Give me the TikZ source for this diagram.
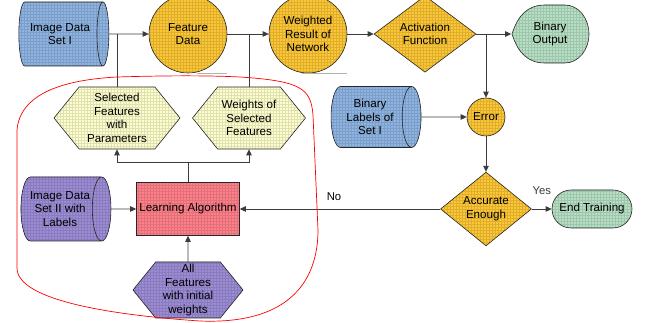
\documentclass[tikz,border=0pt]{standalone}
\usepackage{fontspec}
\setmainfont{Liberation Sans}
\usetikzlibrary{shapes.geometric,shapes.misc,shapes.symbols,patterns,arrows.meta}

\definecolor{cylblue}{RGB}{141,180,226}
\definecolor{sunny}{RGB}{252,198,52}
\definecolor{mint}{RGB}{182,224,196}
\definecolor{cream}{RGB}{255,255,206}
\definecolor{lilac}{RGB}{156,140,214}
\definecolor{salmon}{RGB}{255,128,138}
\definecolor{wire}{RGB}{60,60,60}

\tikzset{
  box/.style={draw=black!85, line width=0.6pt, align=center, inner sep=1pt,
    font=\fontsize{11.6}{13.6}\selectfont},
  gridfill/.style={preaction={fill=#1}, preaction={pattern=grid, pattern color=#1!88!black}},
  store/.style={box, cylinder, aspect=0.5, gridfill=cylblue,
    minimum height=90pt, minimum width=64pt},
  blob/.style={box, circle, gridfill=sunny},
  choice/.style={box, diamond, gridfill=sunny},
  hexa/.style={box, signal, signal to=west and east, signal pointer angle=102,
    gridfill=cream, minimum height=62pt},
  link/.style={draw=wire, line width=0.8pt},
  >={Triangle[length=6pt,width=5.5pt]},
}

\begin{document}
\begin{tikzpicture}[x=1pt,y=1pt]
    \useasboundingbox (0,-323) rectangle (649,0);

    % top row
    \node[store] (img1) at (60,-34) {Image Data\\Set I};
    \node[blob, minimum size=78pt] (fd) at (188,-34) {Feature\\Data};
    \node[blob, minimum size=78pt] (wr) at (308,-34) {Weighted\\Result of\\Network};
    \node[choice, minimum width=102pt, minimum height=76pt] (act) at (425,-34) {Activation\\Function};
    \node[box, draw=none, minimum width=77pt, minimum height=58pt] (bo) at (550,-34) {};
    \draw[box, gridfill=mint] (512,-34) .. controls (518,-15) and (528,-5) .. (545,-5) -- (565,-5)
        arc[start angle=90, end angle=-90, x radius=24, y radius=29] -- (545,-63)
        .. controls (528,-63) and (518,-53) .. (512,-34) -- cycle;
    \node[font=\fontsize{11.6}{13.6}\selectfont, align=center] at (bo) {Binary\\Output};
    \draw[gray!60, line width=0.8pt] (197,-73) -- (227,-73) (302,-73) -- (347,-73);

    % middle row
    \node[hexa, minimum width=126pt] (sf) at (117,-118) {Selected\\Features\\with\\Parameters};
    \node[hexa, minimum width=113pt] (ws) at (249,-118) {Weights of\\Selected\\Features};
    \node[store, minimum width=61pt] (bl) at (370,-117) {Binary\\Labels of\\Set I};
    \node[blob, minimum size=38pt] (err) at (486,-117) {Error};

    % bottom row
    \node[store, gridfill=lilac] (img2) at (60,-209) {Image Data\\Set II with\\Labels};
    \node[box, rectangle, gridfill=salmon, minimum width=103pt, minimum height=53pt] (la) at (188,-209) {Learning Algorithm};
    \node[hexa, gridfill=lilac, minimum width=110pt, minimum height=56pt] (af) at (188,-290) {All\\Features\\with initial\\weights};
    \node[choice, minimum width=91pt, minimum height=68pt] (acc) at (486,-209) {Accurate\\Enough};
    \node[box, rounded rectangle, gridfill=mint, minimum width=82pt, minimum height=38pt] (end) at (592,-209) {End Training};

    % connectors
    \draw[link, ->] (img1) -- (fd);
    \draw[link, ->] (fd) -- (wr);
    \draw[link, ->] (wr) -- (act);
    \draw[link, ->] (act) -- (bo);
    \draw[link] (img1.east -| sf.north) -- (sf.north);
    \draw[link] (fd.east -| ws.north) -- (ws.north);
    \draw[link, ->] (act.east -| err.north) -- (err.north);
    \draw[link, ->] (bl) -- (err);
    \draw[link, ->] (err) -- (acc);
    \draw[link, ->] (acc) -- node[above=11pt, text=wire, font=\fontsize{11.3}{13}\selectfont] {Yes} (end);
    \draw[link, ->] (acc) -- node[above=5pt, pos=0.53, text=black, font=\fontsize{11.3}{13}\selectfont] {No} (la);
    \draw[link, ->] (img2) -- (la);
    \draw[link, ->] (af) -- (la);
    \draw[link] (la.north) -- (188,-162) coordinate (split);
    \draw[link, ->] (split) -| (sf.south);
    \draw[link, ->] (split) -| (ws.south);

    % learning loop boundary
    \draw[red, line width=0.7pt] (117,-77) .. controls (60,-80) and (20,-95) .. (17,-130) -- (17,-268)
        .. controls (17,-300) and (110,-315) .. (200,-321) .. controls (300,-325) and (318,-270) .. (318,-230)
        -- (313,-115) .. controls (311,-88) and (300,-81) .. (240,-77) .. controls (200,-75) and (150,-76) .. (117,-77) -- cycle;
\end{tikzpicture}
\end{document}
